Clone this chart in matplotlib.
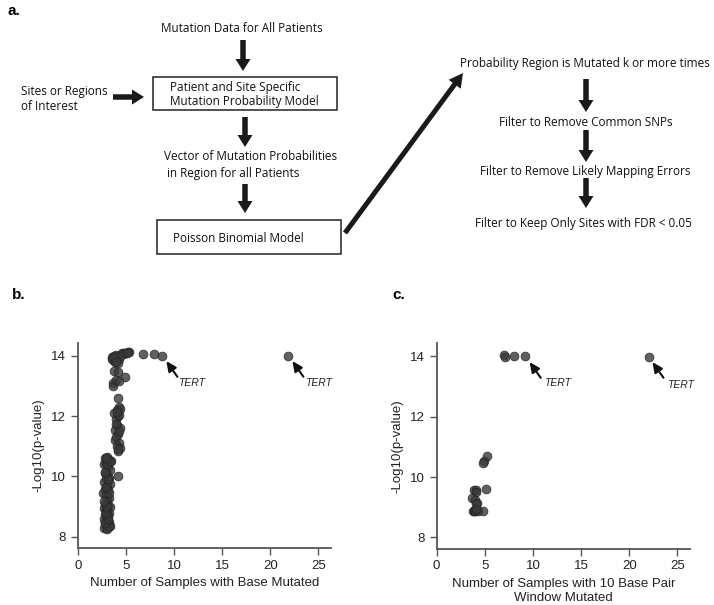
import matplotlib
matplotlib.use("Agg")
import matplotlib.pyplot as plt
from matplotlib.patches import FancyArrow, Rectangle

# panel b: samples with base mutated vs -log10(p)
b_x = [4.6, 4.8, 5.0, 5.2, 5.3, 4.7, 5.1,
       3.6, 3.8, 3.9, 4.0, 4.1, 4.3, 4.4, 3.7, 3.9, 4.2, 3.6, 3.8, 4.0,
       6.8, 7.9, 8.7, 21.8,
       3.8, 4.2, 3.7, 3.7, 4.0, 4.9, 4.3, 4.2,
       4.3, 4.1, 3.8, 4.4, 4.2, 4.0, 4.3, 3.9, 4.1, 4.4, 4.2, 3.9, 4.0, 4.3,
       4.1, 4.4, 4.2, 4.0, 4.3, 4.1, 4.2,
       4.2,
       2.8, 3.0, 3.2, 3.4, 2.7, 2.9, 3.1, 3.3, 2.8, 3.0, 3.2, 2.9, 3.1, 2.7,
       3.0, 3.3, 2.8, 3.1, 2.6, 2.9, 3.2, 3.0, 2.8, 3.1, 3.3, 2.7, 2.9, 3.0,
       3.2, 2.8, 3.1, 2.9, 2.7, 3.0, 3.2, 2.8, 3.1, 3.3, 2.9, 2.7, 3.0, 3.2,
       2.8, 3.1, 2.9, 3.0, 2.7, 3.2, 2.9, 3.1, 2.8, 3.0, 3.3, 2.9]
b_y = [14.10, 14.10, 14.10, 14.12, 14.12, 14.05, 14.08,
       13.95, 14.0, 13.9, 14.02, 13.95, 13.9, 14.0, 13.85, 13.8, 13.75, 13.9, 13.95, 13.8,
       14.05, 14.05, 14.0, 14.0,
       13.5, 13.45, 13.1, 13.0, 13.2, 13.3, 13.15, 12.6,
       12.3, 12.2, 12.1, 12.25, 12.0, 11.9, 12.05, 11.55, 11.7, 11.6, 11.4, 11.2,
       11.3, 11.1, 11.0, 10.95, 10.85, 11.75, 11.5, 12.15, 10.9,
       10.0,
       10.6, 10.65, 10.55, 10.5, 10.4, 10.45, 10.3, 10.2, 10.1, 10.05, 9.95, 9.9,
       9.85, 9.8, 9.7, 9.75, 9.6, 9.55, 9.45, 9.4, 9.3, 9.2, 9.1, 9.05, 9.0, 8.95,
       8.9, 8.85, 8.8, 8.75, 8.7, 8.65, 8.6, 8.55, 8.5, 8.45, 8.4, 8.35, 8.3, 8.3,
       8.25, 8.35, 8.45, 8.6, 8.8, 9.0, 9.2, 9.45, 9.65, 9.9, 10.15, 10.4, 10.5,
       10.6]

# panel c: samples with 10 bp window mutated vs -log10(p)
c_x = [7.0, 7.1, 8.0, 9.2, 22.0,
       5.2, 4.9, 4.85, 5.1,
       3.9, 4.1, 4.05, 3.7, 4.0, 4.2, 4.1, 3.8, 3.9, 4.0, 4.3, 4.8, 4.1]
c_y = [14.05, 13.97, 14.0, 14.0, 13.97,
       10.68, 10.52, 10.45, 9.6,
       9.58, 9.58, 9.5, 9.3, 9.25, 9.15, 9.1, 8.88, 8.88, 8.88, 8.88, 8.88, 8.95]

# TERT labels: (arrow tip, text position)
b_tert = [((9.2, 13.82), (11.8, 13.1)), ((22.3, 13.82), (25.0, 13.1))]
c_tert = [((9.65, 13.8), (12.5, 13.1)), ((22.4, 13.8), (25.3, 13.05))]

W, H = 714, 605
fig = plt.figure(figsize=(W / 100, H / 100), dpi=100)

# flowchart drawn in pixel coordinates
fc = fig.add_axes([0, 0, 1, 1])
fc.set_xlim(0, W)
fc.set_ylim(H, 0)
fc.axis("off")

ffont = dict(family="Open Sans", fontsize=8.5, color="#111111")


def down_arrow(x, y0, y1):
    fc.add_patch(FancyArrow(x, y0, 0, y1 - y0, width=5.5, head_width=15,
                            head_length=12, length_includes_head=True,
                            color="#1a1a1a", lw=0))


fc.text(7, 11, "a.", fontsize=11, fontweight="bold", family="Liberation Sans",
        va="center")

fc.text(242, 28, "Mutation Data for All Patients", ha="center", va="center", **ffont)
down_arrow(243, 40, 71)
fc.add_patch(Rectangle((153, 77), 184, 33, fill=False, lw=1.1, ec="#222222"))
fc.text(170, 87, "Patient and Site Specific", ha="left", va="center", **ffont)
fc.text(170, 102, "Mutation Probability Model", ha="left", va="center", **ffont)
fc.text(21, 92, "Sites or Regions", ha="left", va="center", **ffont)
fc.text(21, 107, "of Interest", ha="left", va="center", **ffont)
fc.add_patch(FancyArrow(113, 97, 31, 0, width=5.5, head_width=15,
                        head_length=12, length_includes_head=True,
                        color="#1a1a1a", lw=0))
down_arrow(245, 117, 147)
fc.text(164, 157, "Vector of Mutation Probabilities", ha="left", va="center", **ffont)
fc.text(167, 173, "in Region for all Patients", ha="left", va="center", **ffont)
down_arrow(245, 184, 213)
fc.add_patch(Rectangle((157, 220), 184, 34, fill=False, lw=1.1, ec="#222222"))
fc.text(173, 238, "Poisson Binomial Model", ha="left", va="center", **ffont)
fc.add_patch(FancyArrow(345, 233, 118, -160, width=5, head_width=15,
                        head_length=14, length_includes_head=True,
                        color="#1a1a1a", lw=0))

fc.text(585, 63, "Probability Region is Mutated k or more times", ha="center",
        va="center", **ffont)
down_arrow(586, 79, 112)
fc.text(586, 122, "Filter to Remove Common SNPs", ha="center", va="center", **ffont)
down_arrow(586, 130, 162)
fc.text(585, 172, "Filter to Remove Likely Mapping Errors", ha="center",
        va="center", **ffont)
down_arrow(586, 178, 208)
fc.text(583, 223, "Filter to Keep Only Sites with FDR < 0.05", ha="center",
        va="center", **ffont)

fc.text(12, 295, "b.", fontsize=11, fontweight="bold", family="Liberation Sans",
        va="center")
fc.text(392, 295, "c.", fontsize=11, fontweight="bold", family="Liberation Sans",
        va="center")

pfont = "Liberation Sans"


def scatter_panel(rect, xs, ys, terts, xlabel):
    ax = fig.add_axes(rect)
    ax.scatter(xs, ys, s=40, color="#3a3a3a", alpha=0.8, edgecolors="#222222",
               linewidths=0.6, zorder=3)
    ax.set_xlim(0, 26.3)
    ax.set_ylim(7.63, 14.43)
    ax.set_xticks([0, 5, 10, 15, 20, 25])
    ax.set_yticks([8, 10, 12, 14])
    for s in ["top", "right"]:
        ax.spines[s].set_visible(False)
    for s in ["left", "bottom"]:
        ax.spines[s].set_color("#555555")
        ax.spines[s].set_linewidth(1.3)
    ax.tick_params(direction="out", length=5, width=1, color="#555555",
                   labelsize=9.5, labelcolor="#222222")
    for lab in ax.get_xticklabels() + ax.get_yticklabels():
        lab.set_family(pfont)
    ax.set_xlabel(xlabel, fontsize=9.5, family=pfont, color="#222222", labelpad=4)
    ax.set_ylabel("-Log10(p-value)", fontsize=9.5, family=pfont,
                  color="#222222", labelpad=5)
    for tip, txt in terts:
        ax.annotate("", xy=tip, xytext=(tip[0] + 1.15, tip[1] - 0.52),
                    arrowprops=dict(arrowstyle="-|>,head_width=0.28,head_length=0.6",
                                    color="#111111", lw=1.5,
                                    shrinkA=0, shrinkB=0))
        ax.text(txt[0], txt[1], "TERT", fontsize=7.5, style="italic",
                family=pfont, ha="center", va="center", color="#222222")
    return ax


scatter_panel([0.109, 0.0942, 0.3544, 0.3394], b_x, b_y, b_tert,
              "Number of Samples with Base Mutated")
scatter_panel([0.6116, 0.0931, 0.3548, 0.3399], c_x, c_y, c_tert,
              "Number of Samples with 10 Base Pair\nWindow Mutated")

fig.savefig("out.png", dpi=100)
